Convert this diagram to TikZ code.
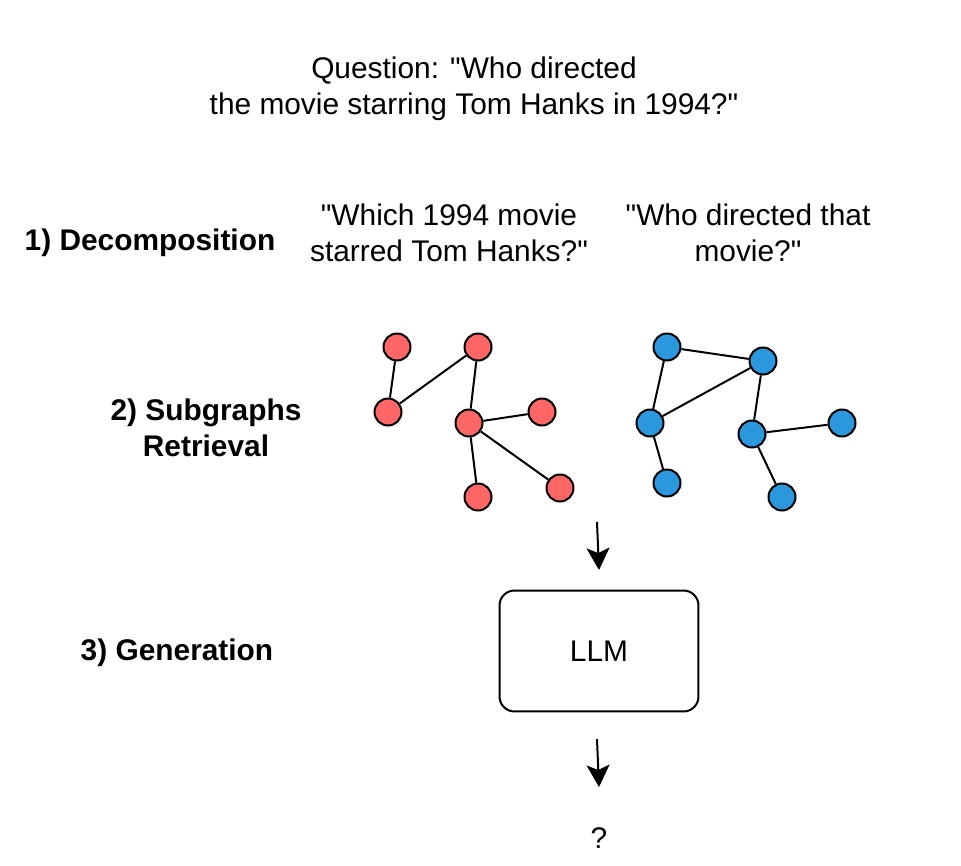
\documentclass[tikz,border=0pt]{standalone}
\usepackage{fontspec}
\setmainfont{Liberation Sans}[Ligatures=TeXOff]
\usetikzlibrary{arrows.meta}
\definecolor{nodered}{HTML}{FF6666}
\definecolor{nodeblue}{HTML}{2B98DD}

\begin{document}
\begin{tikzpicture}[x=0.02cm,y=-0.02cm,>={Stealth[length=0.44cm,width=0.46cm,inset=0.1cm]},
  every node/.style={font=\fontsize{17}{20.5}\selectfont},
  stagelabel/.style={font=\fontsize{17}{20.5}\selectfont\bfseries,align=center},
  rnode/.style={circle,draw,line width=0.04cm,fill=nodered,minimum size=0.54cm,inner sep=0pt},
  bnode/.style={circle,draw,line width=0.04cm,fill=nodeblue,minimum size=0.54cm,inner sep=0pt},
  link/.style={line width=0.04cm}]

\useasboundingbox (0,0) rectangle (961,866);

%Frage
\node[align=center] (question) at (474,89) {Question: "Who directed\\the movie starring Tom Hanks in 1994?"};

%Schritte
\node[stagelabel] (decomp) at (150,243) {1) Decomposition};
\node[stagelabel] (retrieval) at (206,428) {2) Subgraphs\\Retrieval};
\node[stagelabel] (generation) at (177,653) {3) Generation};

%Teilfragen
\node[align=center] (subq1) at (449,233) {"Which 1994 movie\\starred Tom Hanks?"};
\node[align=center] (subq2) at (748,233) {"Who directed that\\movie?"};

%Teilgraph 1
\node[rnode] (r1) at (397,347) {};
\node[rnode] (r2) at (478,347) {};
\node[rnode] (r3) at (388,412) {};
\node[rnode] (r4) at (469,423) {};
\node[rnode] (r5) at (542,412) {};
\node[rnode] (r6) at (478,497) {};
\node[rnode] (r7) at (560,488) {};
\draw[link] (r1) -- (r3);
\draw[link] (r3) -- (r2);
\draw[link] (r2) -- (r4);
\draw[link] (r4) -- (r5);
\draw[link] (r4) -- (r6);
\draw[link] (r4) -- (r7);

%Teilgraph 2
\node[bnode] (b1) at (667,347) {};
\node[bnode] (b2) at (763,361) {};
\node[bnode] (b3) at (650,423) {};
\node[bnode] (b4) at (752,434) {};
\node[bnode] (b5) at (842,423) {};
\node[bnode] (b6) at (667,483) {};
\node[bnode] (b7) at (782,497) {};
\draw[link] (b1) -- (b2);
\draw[link] (b1) -- (b3);
\draw[link] (b3) -- (b2);
\draw[link] (b2) -- (b4);
\draw[link] (b4) -- (b5);
\draw[link] (b3) -- (b6);
\draw[link] (b4) -- (b7);

%LLM
\coordinate (in1) at (597,522);
\coordinate (in2) at (599,570);
\draw[->,link] (in1) -- (in2);
\node[draw,line width=0.04cm,rounded corners=0.3cm,minimum width=3.98cm,minimum height=2.42cm] (llm) at (599,651) {LLM};
\coordinate (out1) at (597,739);
\coordinate (out2) at (599,787);
\draw[->,link] (out1) -- (out2);
\node (answer) at (599,838) {?};

\end{tikzpicture}
\end{document}
